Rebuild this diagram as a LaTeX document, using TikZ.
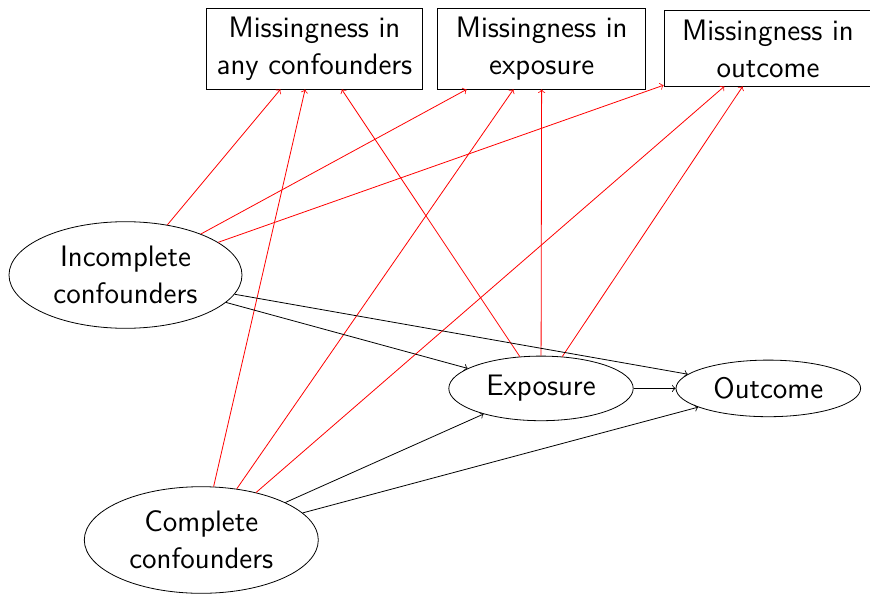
\documentclass[tikz,border=0pt]{standalone}
\usetikzlibrary{shapes.geometric}
\begin{document}
\begin{tikzpicture}[x=0.5pt,y=-0.5pt,
  every node/.style={font=\sffamily\fontsize{14.8}{18.5}\selectfont,align=center},
  mbox/.style={draw,rectangle,inner sep=0pt},
  vell/.style={draw,ellipse,inner sep=0pt},
  redarr/.style={->,red},
  blkarr/.style={->,black}]
\useasboundingbox (0,0) rectangle (870,593);
\node[mbox,minimum width=108pt,minimum height=40.5pt] (m1) at (314.5,48.5) {Missingness in\\any confounders};
\node[mbox,minimum width=104pt,minimum height=40.5pt] (m2) at (541.7,48.5) {Missingness in\\exposure};
\node[mbox,minimum width=104pt,minimum height=37.6pt] (m3) at (768,48.4) {Missingness in\\outcome};
\node[vell,minimum width=116.5pt,minimum height=53.3pt] (inc) at (125.5,275) {Incomplete\\confounders};
\node[vell,minimum width=92.2pt,minimum height=32.3pt] (exp) at (541,388.4) {Exposure};
\node[vell,minimum width=92.3pt,minimum height=28.3pt] (out) at (768.3,388.4) {Outcome};
\node[vell,minimum width=117pt,minimum height=53.3pt] (comp) at (201.3,540) {Complete\\confounders};
\draw[redarr] (inc) -- (m1);
\draw[redarr] (inc) -- (m2);
\draw[redarr] (inc) -- (m3);
\draw[redarr] (comp) -- (m1);
\draw[redarr] (comp) -- (m2);
\draw[redarr] (comp) -- (m3);
\draw[redarr] (exp) -- (m1);
\draw[redarr] (exp) -- (m2);
\draw[redarr] (exp) -- (m3);
\draw[blkarr] (inc) -- (exp);
\draw[blkarr] (inc) -- (out);
\draw[blkarr] (comp) -- (exp);
\draw[blkarr] (comp) -- (out);
\draw[blkarr] (exp) -- (out);
\end{tikzpicture}
\end{document}
